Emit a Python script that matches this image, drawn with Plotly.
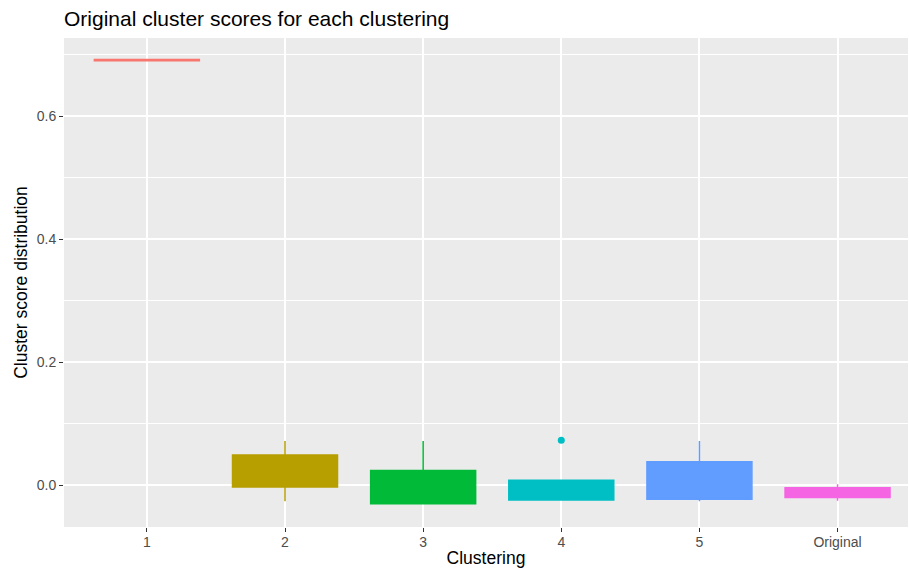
import plotly.graph_objects as go

categories = ["1", "2", "3", "4", "5", "Original"]
colors = ["#F8766D", "#B79F00", "#00BA38", "#00BFC4", "#619CFF", "#F564E3"]
lower_fence = [0.690, -0.026, -0.031, -0.025, -0.026, -0.0255]
q1 = [0.690, -0.003, -0.030, -0.024, -0.023, -0.020]
median = [0.691, 0.020, -0.005, -0.010, 0.010, -0.012]
q3 = [0.692, 0.049, 0.024, 0.008, 0.038, -0.004]
upper_fence = [0.692, 0.072, 0.072, 0.008, 0.072, 0.0016]
outlier_cat = ["4"]
outlier_val = [0.073]

fig = go.Figure()
for i, c in enumerate(categories):
    fig.add_trace(go.Box(
        x=[c], q1=[q1[i]], median=[median[i]], q3=[q3[i]],
        lowerfence=[lower_fence[i]], upperfence=[upper_fence[i]],
        fillcolor=colors[i], line=dict(color=colors[i], width=1.5),
        whiskerwidth=0, width=0.76, boxpoints=False, showlegend=False,
        hoverinfo="skip",
    ))
fig.add_trace(go.Scatter(
    x=outlier_cat, y=outlier_val, mode="markers",
    marker=dict(color=colors[3], size=7), showlegend=False,
))

fig.update_layout(
    width=909, height=574,
    margin=dict(l=64, r=1, t=38, b=47),
    paper_bgcolor="white", plot_bgcolor="#EBEBEB",
    boxmode="overlay",
    font=dict(family="Liberation Sans, Arial, sans-serif", color="#000000"),
    title=dict(text="Original cluster scores for each clustering", x=64/909, xanchor="left",
               y=1 - 19/574, yanchor="middle", font=dict(size=21, color="#000000")),
)
fig.update_xaxes(
    type="category", categoryorder="array", categoryarray=categories,
    range=[-0.6, 5.51], showgrid=True, gridcolor="white", gridwidth=1.6,
    ticks="outside", ticklen=4, tickcolor="#333333", tickwidth=1.1,
    ticklabelstandoff=-2,
    tickfont=dict(size=14, color="#4D4D4D"), zeroline=False, showline=False,
    title=dict(text="Clustering", font=dict(size=17.5, color="#000000"), standoff=2),
)
fig.update_yaxes(
    range=[-0.068, 0.727], tickmode="array", tickvals=[0, 0.2, 0.4, 0.6],
    ticktext=["0.0", "0.2", "0.4", "0.6"],
    showgrid=True, gridcolor="white", gridwidth=1.6,
    minor=dict(tickmode="array", tickvals=[-0.1, 0.1, 0.3, 0.5, 0.7], showgrid=True,
               gridcolor="white", gridwidth=0.8, ticks=""),
    ticks="outside", ticklen=4, tickcolor="#333333", tickwidth=1.1,
    tickfont=dict(size=14, color="#4D4D4D"), zeroline=False, showline=False,
    title=dict(text="Cluster score distribution", font=dict(size=17.5, color="#000000"), standoff=4),
)

fig.write_html("out.html", config={"displayModeBar": False},
               post_script="document.body.style.margin='0px';")
